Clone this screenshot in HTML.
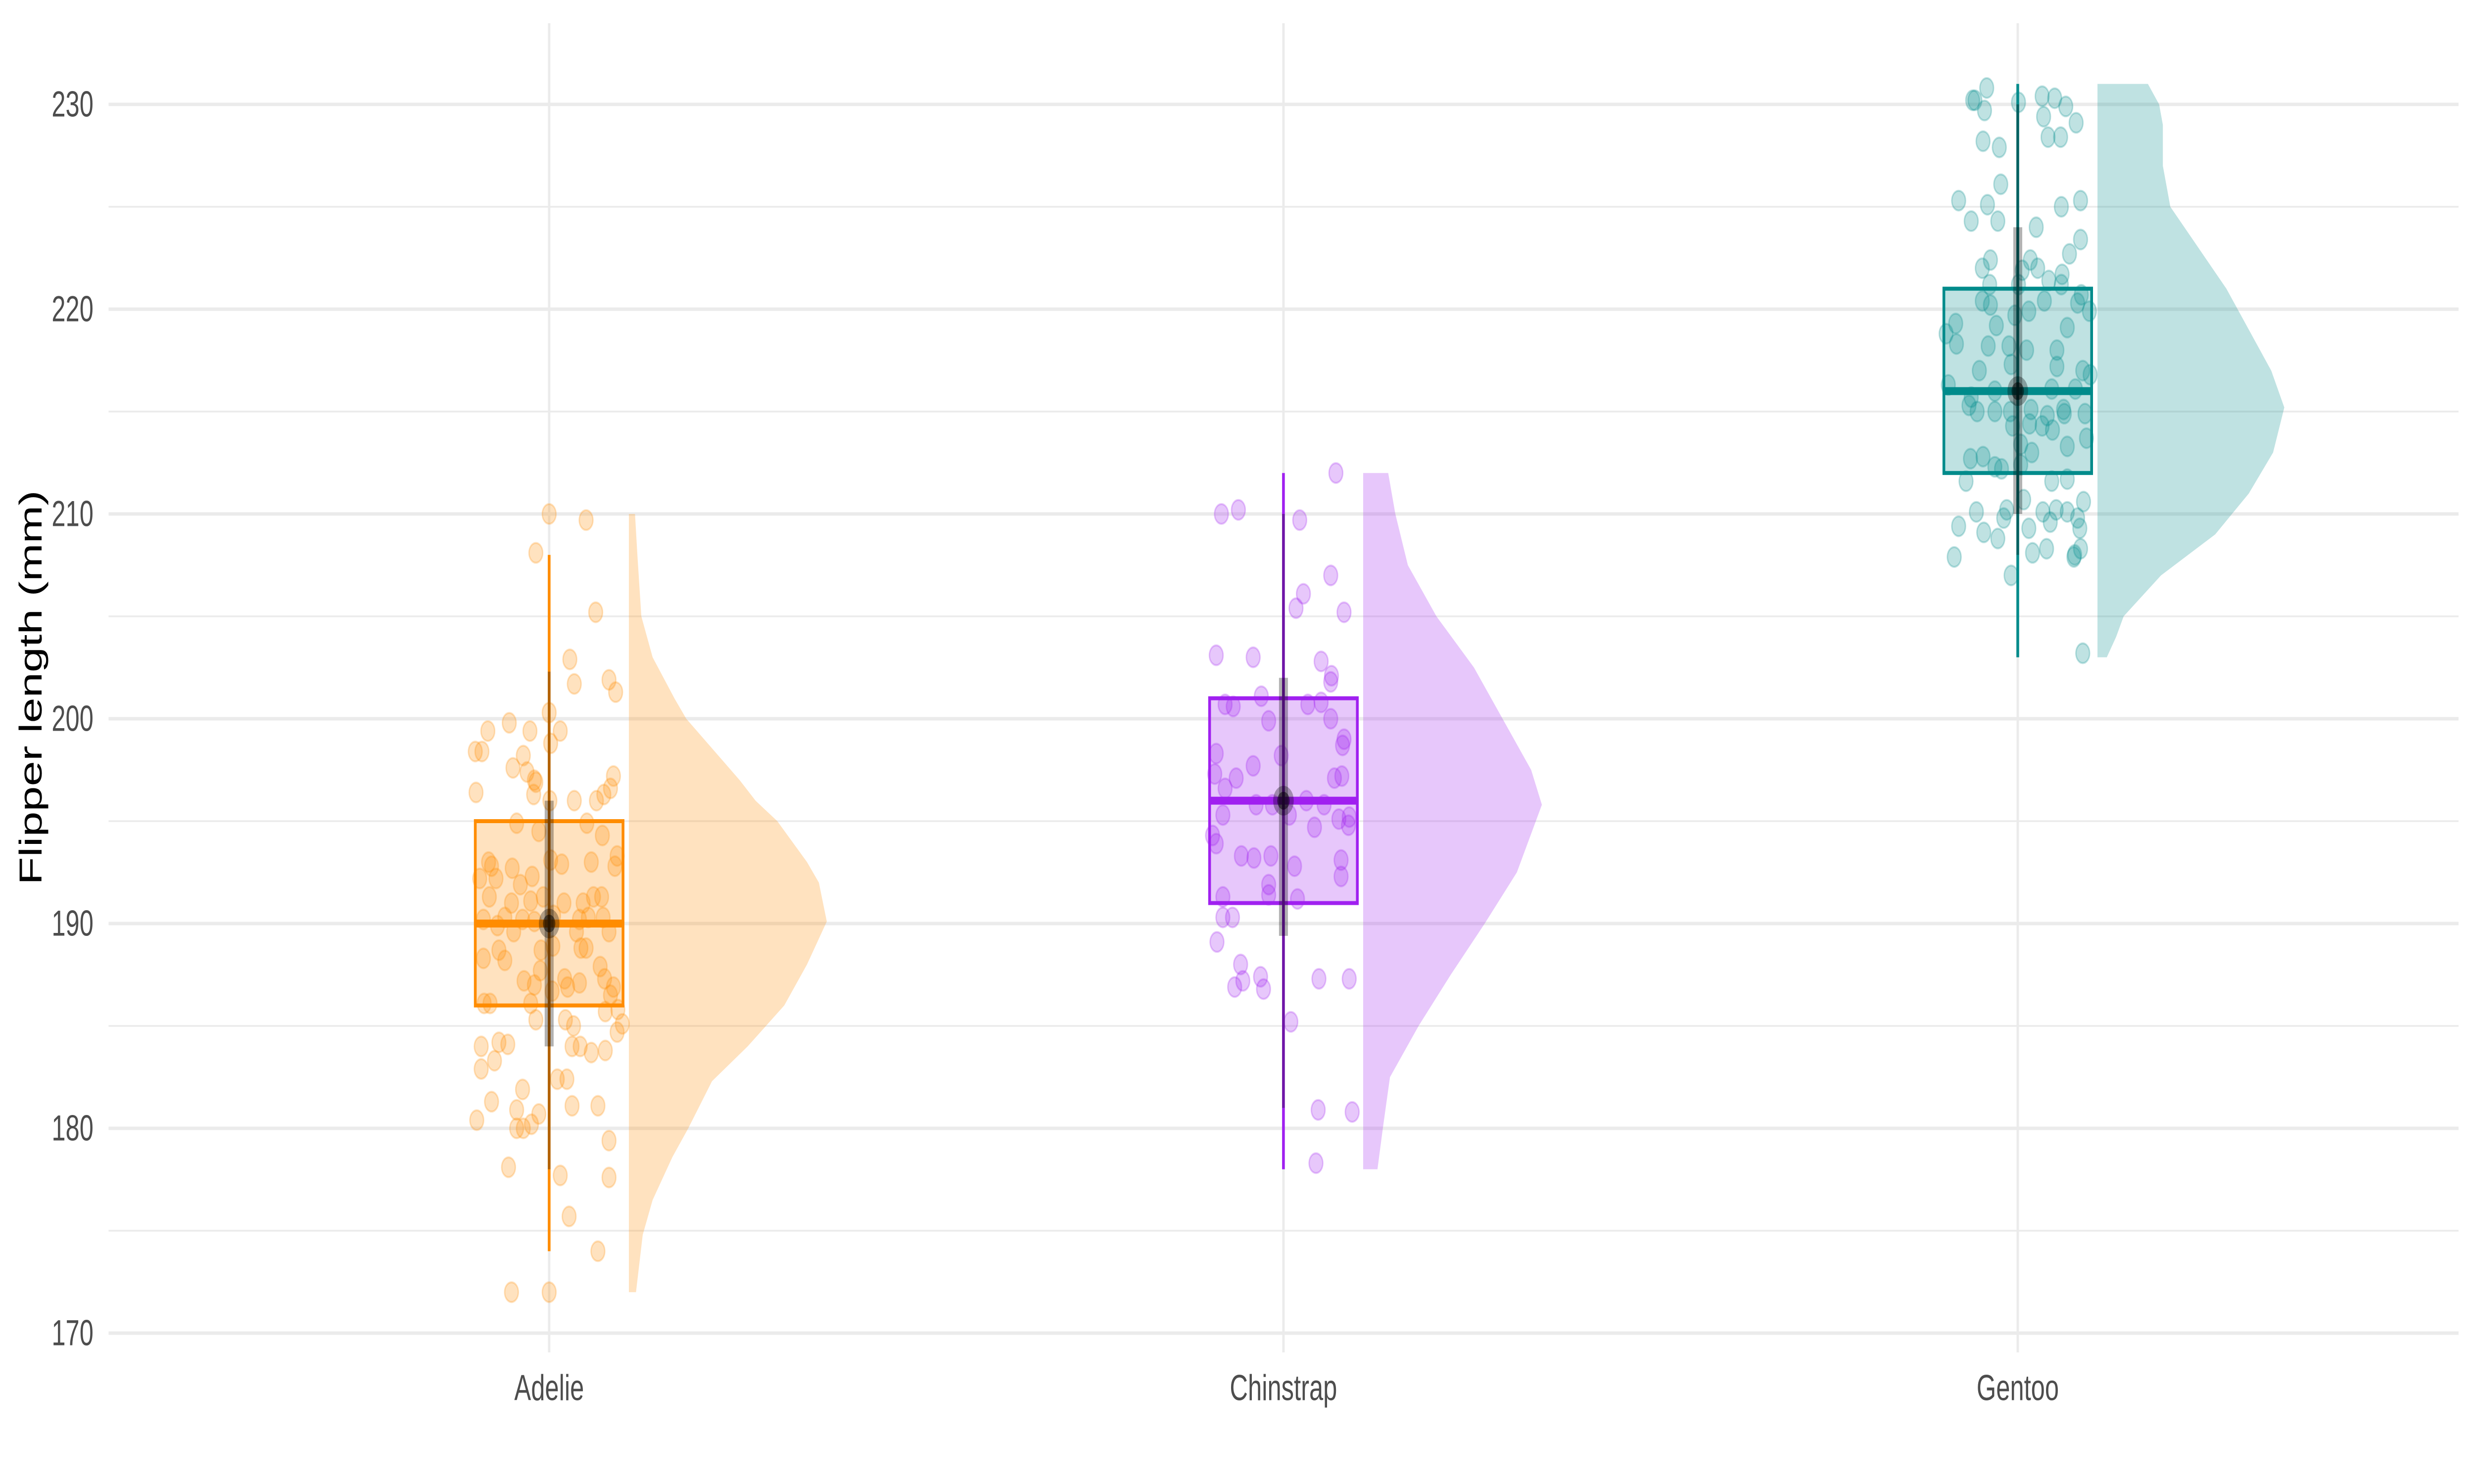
<!DOCTYPE html>
<html><head><meta charset="utf-8">
<style>
html,body{margin:0;padding:0;background:#fff;width:100%;height:100%;overflow:hidden;}
svg{display:block;width:100vw;height:100vh;}
text{font-family:"Liberation Sans",Arial,sans-serif;}
</style></head>
<body>
<svg id="chart" viewBox="0 0 7200 3000" preserveAspectRatio="none" xmlns="http://www.w3.org/2000/svg">
<rect x="0" y="0" width="7200" height="3000" fill="#ffffff"/>
<g id="grid"></g>
<g id="marks"></g>
<g id="axes"></g>
<text x="89" y="1390" font-size="92" fill="#000" text-anchor="middle" transform="rotate(-90 89 1390)" dominant-baseline="central">Flipper length (mm)</text>
</svg>
<script>
const categories = ["Adelie","Chinstrap","Gentoo"];
const colors = ["#FF8C00","#A020F0","#008B8B"];
const yTicks = [170,180,190,200,210,220,230];
const yMinorTicks = [175,185,195,205,215,225];
// box stats
const whiskerLow = [174,178,203];
const q1 = [186,191,212];
const medians = [190,196,216];
const q3 = [195,201,221];
const whiskerHigh = [208,212,231];
// intervals
const int66Low = [184,189.4,210];
const int66High = [196,202,224];
const int95Low = [178,181,208];
const int95High = [202.3,210,230];
// densities
const adelieDensY = [210,208,205,203,201,200,199,198,197,196,195,193,192,190.1,188,186,184,182.3,180,178.6,176.5,174.8,172];
const adelieDensV = [.031,.043,.063,.12,.23,.29,.38,.47,.56,.64,.75,.9,.96,1,.9,.785,.6,.42,.3,.22,.12,.07,.036];
const chinDensY = [212,210,207.5,205,202.5,200,197.5,195.8,192.5,190,187.5,185,182.5,180,178];
const chinDensV = [.14,.18,.25,.41,.62,.78,.94,1,.86,.68,.49,.31,.15,.11,.08];
const gentDensY = [231,230,229,227,225,223,221,219,217,215.2,213,211,209,207,205,204,203];
const gentDensV = [.27,.33,.35,.35,.39,.54,.69,.81,.93,1,.94,.81,.63,.34,.14,.10,.05];
const peakDensity = [1.0,0.903,0.944];
// observations
const adelieVals = [210,209.7,208.1,205.2,202.9,201.7,201.9,201.3,200.3,199.8,199.4,199.4,199.4,198.8,198.4,198.4,198.2,197.6,197.4,197,196.9,197.2,196.6,196.4,196.3,196,196,196,196.3,194.9,194.5,194.9,194.3,193.3,192.8,193,192.8,192.7,192.3,193.1,192.9,193,192.2,192.2,191.9,191.3,191,191.1,191.3,191,191,191.3,191.3,190.2,189.9,190.3,190.2,190.1,190.4,190.2,190.3,190.3,189.6,189.6,189.6,188.7,188.3,188.2,188.7,188.9,188.8,188.8,187.7,187.9,187.2,187,186.7,187.3,186.9,187.1,187.3,186.9,186.5,186.1,186.1,186.1,185.7,185.8,185.3,185.3,185,185.1,184.7,184,184.2,184.1,184,184,183.7,183.8,182.9,183.3,182.4,182.4,181.9,181.3,180.9,180.7,181.1,181.1,180.4,180,180,180.2,179.4,178.1,177.7,177.6,175.7,174,172,172];
const adelieJit = [0,.5,-.18,.63,.28,.34,.81,.9,0,-.54,-.83,-.26,.15,.02,-1,-.91,-.35,-.49,-.3,-.2,-.18,.87,.83,-.99,-.21,.01,.34,.64,.74,-.44,-.14,.51,.72,.92,.89,-.82,-.78,-.5,-.23,.02,.17,.57,-.94,-.72,-.39,-.81,-.51,-.25,-.08,.2,.46,.6,.71,-.89,-.7,-.6,-.36,-.2,.06,.41,.53,.73,-.48,.37,.81,-.68,-.89,-.6,-.11,.05,.43,.5,-.12,.69,-.34,-.2,.04,.21,.25,.41,.75,.87,.83,-.88,-.8,-.25,.76,.93,-.18,.22,.33,.99,.92,-.92,-.68,-.56,.31,.42,.57,.76,-.92,-.74,.11,.24,-.36,-.78,-.44,-.14,.31,.66,-.98,-.44,-.35,-.24,.81,-.55,.15,.81,.27,.66,-.51,0];
const chinVals = [212,210,210.2,209.7,207,206.1,205.4,205.2,203.1,203,202.8,202.1,201.8,201.1,200.7,200.6,200.7,200.8,199.9,200,199,198.7,198.3,198.2,197.7,197.3,197.1,196.6,197.1,197.2,195.8,195.8,196,195.8,195.3,195.3,194.7,195.1,195.2,194.8,194.3,193.9,193.3,193.2,193.3,192.8,193.1,192.3,191.9,191.4,191.3,191.2,190.3,190.3,189.1,188,187.2,186.9,187.4,186.8,187.3,187.3,185.2,180.9,180.8,178.3];
const chinJit = [.71,-.84,-.61,.22,.64,.27,.17,.82,-.91,-.41,.51,.65,.64,-.3,-.79,-.68,.33,.51,-.2,.64,.82,.8,-.91,-.03,-.41,-.93,-.64,-.79,.69,.79,-.37,-.15,.31,.55,.08,-.82,.42,.75,.89,.88,-.96,-.91,-.57,-.4,-.17,.15,.78,.78,-.2,-.2,-.82,.19,-.82,-.69,-.9,-.58,-.55,-.66,-.31,-.27,.48,.89,.1,.47,.93,.44];
const gentVals = [230.8,230.2,230.2,229.7,230.1,230.4,230.3,229.9,229.4,229.1,228.4,228.4,228.2,227.9,226.1,225.3,225.1,225,225.3,224.3,224.3,224,223.4,222.7,222.4,222,222.4,222,221.9,221.7,221.2,221.2,221.4,221.2,220.7,220.4,220.2,220.4,220.3,219.9,219.7,219.9,219.3,219.2,219.1,218.8,218.3,218.2,218.2,218,218,217.3,217,217.2,217,216.8,216.3,216,216.1,216.1,215.7,215.3,215,215,215,215.1,214.8,215.1,214.9,214.9,214.3,214.4,214.3,214.1,213.4,213,213.3,213.7,212.7,212.8,212.3,212.2,212.4,211.6,211.6,211.7,210.7,210.6,210.1,210.2,209.8,210.1,210.2,210.1,209.6,209.8,209.3,209.4,209.1,208.8,209.3,208.1,208.3,207.9,208.3,207.9,208,207,203.2];
const gentJit = [-.42,-.61,-.58,-.45,.01,.33,.5,.65,.35,.79,.41,.58,-.47,-.25,-.23,-.8,-.41,.59,.85,-.63,-.27,.25,.85,.7,-.37,-.48,.17,.27,.06,.6,-.38,.01,.42,.59,.86,-.48,-.37,.36,.81,.97,-.04,.15,-.84,-.29,.67,-.97,-.83,-.4,-.12,.12,.53,-.09,-.52,.53,.88,.98,-.94,-.31,.46,.78,-.63,-.66,-.55,-.31,-.1,.18,.4,.62,.91,.63,-.07,.16,.33,.47,.04,.19,.67,.93,-.64,-.47,-.31,-.22,.04,-.7,.46,.67,.08,.89,-.56,-.15,-.19,.34,.52,.67,.44,.81,.84,-.8,-.46,-.27,.15,.2,.39,-.86,.85,.76,.77,-.09,.88];

const densY = [adelieDensY, chinDensY, gentDensY];
const densV = [adelieDensV, chinDensV, gentDensV];
const obsVals = [adelieVals, chinVals, gentVals];
const obsJit = [adelieJit, chinJit, gentJit];

const PL = 316, PR = 7155, PT = 47, PB = 2734;
const catStep = 2137;
function xScale(i){ return PL + (0.6 + i) * catStep; }
function yScale(v){ return 211 + (230 - v) * 41.4; }
const boxHalf = 215, violinGap = 232, violinMax = 576, ptR = 20;

const NS = "http://www.w3.org/2000/svg";
function mk(tag, attrs, parent){
  const el = document.createElementNS(NS, tag);
  for (const k in attrs) el.setAttribute(k, attrs[k]);
  parent.appendChild(el);
  return el;
}
const grid = document.getElementById('grid');
const marks = document.getElementById('marks');
const axes = document.getElementById('axes');

yMinorTicks.forEach(t => {
  const l = mk('line', {x1:PL, x2:PR, y1:yScale(t), y2:yScale(t), stroke:'#EBEBEB', 'stroke-width':3.5}, grid);
  
  
});
yTicks.forEach(t => {
  const l = mk('line', {x1:PL, x2:PR, y1:yScale(t), y2:yScale(t), stroke:'#EBEBEB', 'stroke-width':7}, grid);
  
  
  const tx = mk('text', {x:272, y:yScale(t), 'font-size':73, fill:'#4D4D4D', 'text-anchor':'end', 'dominant-baseline':'central'}, axes);
  tx.textContent = t;
  
  
});
categories.forEach((c, i) => {
  const l = mk('line', {x1:xScale(i), x2:xScale(i), y1:PT, y2:PB, stroke:'#EBEBEB', 'stroke-width':7}, grid);
  
  
  const tx = mk('text', {x:xScale(i), y:2806, 'font-size':73, fill:'#4D4D4D', 'text-anchor':'middle', 'dominant-baseline':'central'}, axes);
  tx.textContent = c;
  
  
});

categories.forEach((c, i) => {
  const cx = xScale(i), col = colors[i], nm = c.toLowerCase();
  const g = mk('g', {}, marks);
  
  
  const x0 = cx + violinGap;
  const ys = densY[i], vs = densV[i];
  let d = 'M' + x0 + ',' + yScale(ys[0]);
  for (let k = 0; k < ys.length; k++){
    d += ' L' + (x0 + vs[k] * peakDensity[i] * violinMax) + ',' + yScale(ys[k]);
  }
  d += ' L' + x0 + ',' + yScale(ys[ys.length-1]) + ' Z';
  const vp = mk('path', {d:d, fill:col, 'fill-opacity':0.25, 'stroke-linejoin':'round'}, g);
  
  
  const bx = mk('rect', {x:cx-boxHalf, y:yScale(q3[i]), width:boxHalf*2, height:yScale(q1[i])-yScale(q3[i]), fill:col, 'fill-opacity':0.25, stroke:col, 'stroke-width':8}, g);
  
  
  const md = mk('line', {x1:cx-boxHalf, x2:cx+boxHalf, y1:yScale(medians[i]), y2:yScale(medians[i]), stroke:col, 'stroke-width':16}, g);
  
  
  const wh = mk('line', {x1:cx, x2:cx, y1:yScale(whiskerHigh[i]), y2:yScale(whiskerLow[i]), stroke:col, 'stroke-width':8}, g);
  
  
  const vals = obsVals[i], jit = obsJit[i];
  for (let k = 0; k < vals.length; k++){
    const p = mk('circle', {cx:cx + jit[k]*boxHalf, cy:yScale(vals[k]), r:ptR, fill:col, 'fill-opacity':0.25, stroke:col, 'stroke-opacity':0.25, 'stroke-width':4}, g);
    
    
  }
  const t95 = mk('line', {x1:cx, x2:cx, y1:yScale(int95High[i]), y2:yScale(int95Low[i]), stroke:'#000', 'stroke-opacity':0.3, 'stroke-width':8}, g);
  
  
  const t66 = mk('line', {x1:cx, x2:cx, y1:yScale(int66High[i]), y2:yScale(int66Low[i]), stroke:'#000', 'stroke-opacity':0.3, 'stroke-width':26}, g);
  
  
  const mp = mk('circle', {cx:cx, cy:yScale(medians[i]), r:30, fill:'#000', 'fill-opacity':0.3}, g);
  
  
  const mp2 = mk('circle', {cx:cx, cy:yScale(medians[i]), r:18, fill:'#000', 'fill-opacity':0.5}, g);
  
  
});
</script>
</body></html>
